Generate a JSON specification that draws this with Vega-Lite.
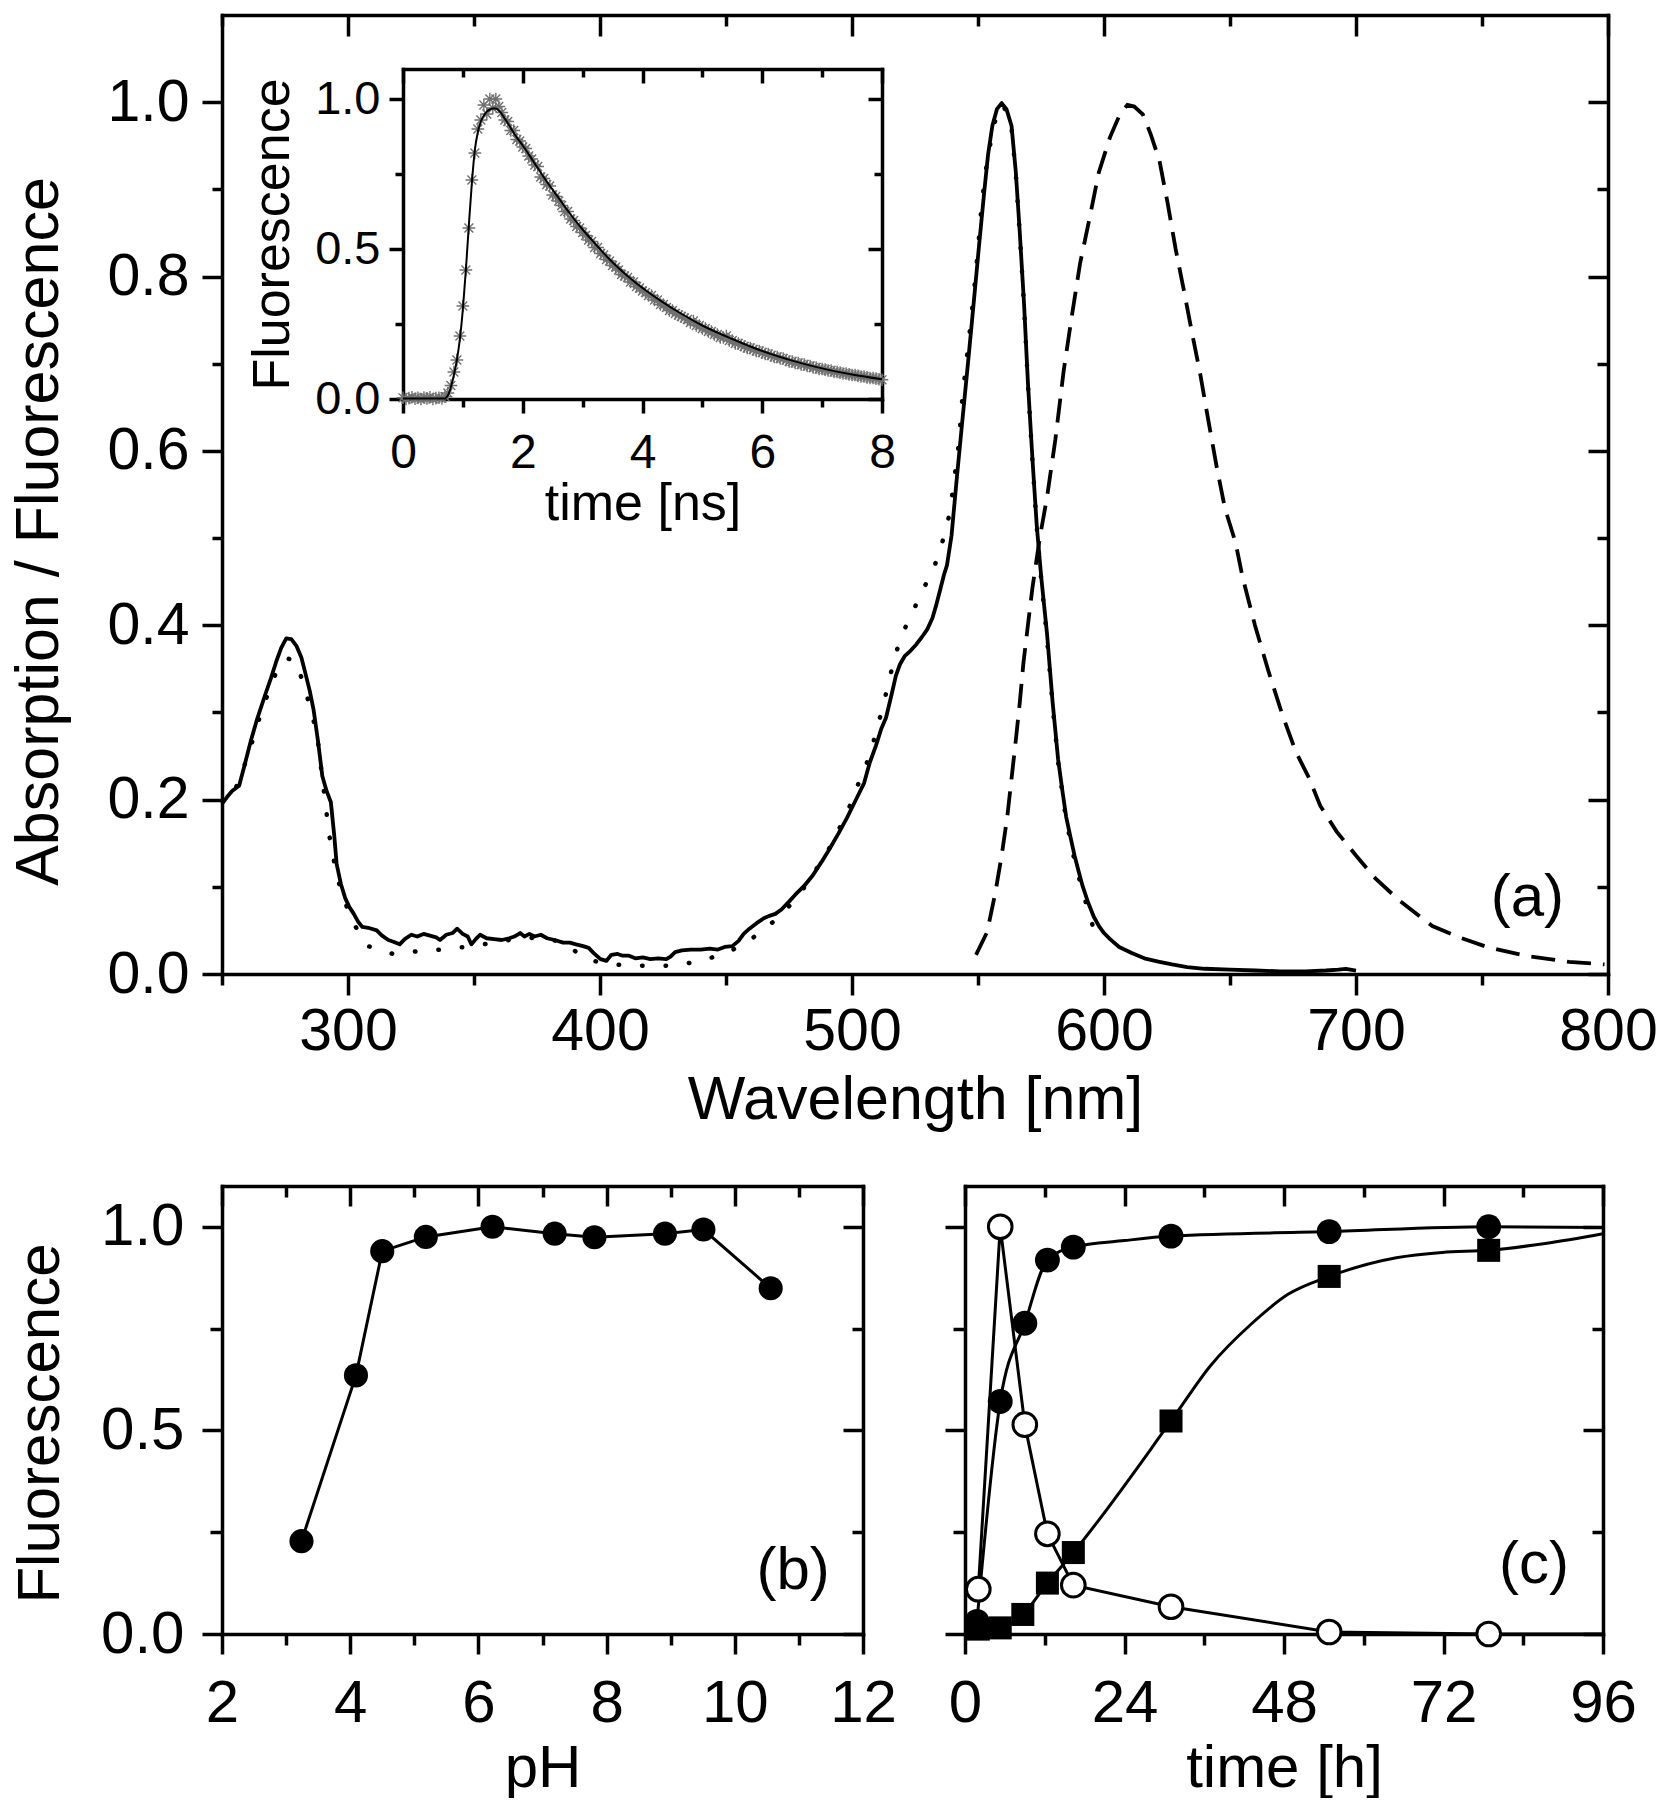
{
"$schema":"https://vega.github.io/schema/vega-lite/v6.json",
"background":"white",
"padding":{"left":8,"top":13,"right":0,"bottom":0},
"datasets":{
"absA":[{"nm":250,"a":0.195},{"nm":252,"a":0.203},{"nm":254,"a":0.21},{"nm":256.8,"a":0.216},{"nm":259,"a":0.24},{"nm":261.4,"a":0.267},{"nm":264,"a":0.293},{"nm":267.1,"a":0.32},{"nm":269.5,"a":0.34},{"nm":271.6,"a":0.359},{"nm":273.5,"a":0.374},{"nm":275.5,"a":0.385},{"nm":277.5,"a":0.384},{"nm":279.6,"a":0.376},{"nm":281.5,"a":0.363},{"nm":283,"a":0.346},{"nm":284.8,"a":0.325},{"nm":286.4,"a":0.302},{"nm":288.2,"a":0.265},{"nm":289.8,"a":0.227},{"nm":291.5,"a":0.21},{"nm":293.2,"a":0.197},{"nm":294.5,"a":0.16},{"nm":295.5,"a":0.126},{"nm":297.2,"a":0.103},{"nm":298.9,"a":0.087},{"nm":300.5,"a":0.077},{"nm":302.3,"a":0.069},{"nm":304,"a":0.06},{"nm":305.7,"a":0.054},{"nm":308,"a":0.053},{"nm":311.4,"a":0.05},{"nm":313.5,"a":0.044},{"nm":316,"a":0.039},{"nm":318,"a":0.037},{"nm":320.5,"a":0.034},{"nm":322.5,"a":0.04},{"nm":325.1,"a":0.045},{"nm":327.5,"a":0.043},{"nm":330,"a":0.046},{"nm":332.5,"a":0.044},{"nm":335,"a":0.042},{"nm":336.5,"a":0.039},{"nm":339,"a":0.045},{"nm":341.5,"a":0.047},{"nm":343.3,"a":0.052},{"nm":345.5,"a":0.046},{"nm":347.5,"a":0.043},{"nm":349,"a":0.034},{"nm":350.7,"a":0.04},{"nm":352.4,"a":0.045},{"nm":355,"a":0.041},{"nm":358,"a":0.04},{"nm":361,"a":0.039},{"nm":364,"a":0.041},{"nm":366,"a":0.043},{"nm":368.3,"a":0.047},{"nm":370,"a":0.043},{"nm":372,"a":0.046},{"nm":374,"a":0.043},{"nm":376.5,"a":0.045},{"nm":379,"a":0.041},{"nm":382,"a":0.039},{"nm":385.4,"a":0.036},{"nm":388,"a":0.036},{"nm":390.5,"a":0.034},{"nm":393.3,"a":0.032},{"nm":395.5,"a":0.03},{"nm":397.5,"a":0.024},{"nm":400.2,"a":0.017},{"nm":402.5,"a":0.015},{"nm":404.5,"a":0.022},{"nm":407,"a":0.023},{"nm":409,"a":0.021},{"nm":411.5,"a":0.021},{"nm":414,"a":0.018},{"nm":417,"a":0.019},{"nm":420,"a":0.017},{"nm":423,"a":0.018},{"nm":426.3,"a":0.017},{"nm":428,"a":0.02},{"nm":429.8,"a":0.025},{"nm":432.5,"a":0.027},{"nm":436,"a":0.028},{"nm":440,"a":0.028},{"nm":443.5,"a":0.029},{"nm":446.8,"a":0.028},{"nm":449.5,"a":0.031},{"nm":452.5,"a":0.032},{"nm":455,"a":0.038},{"nm":457,"a":0.046},{"nm":459.3,"a":0.052},{"nm":462,"a":0.058},{"nm":465,"a":0.064},{"nm":467.5,"a":0.067},{"nm":469.6,"a":0.069},{"nm":472,"a":0.074},{"nm":475,"a":0.083},{"nm":477.5,"a":0.091},{"nm":481,"a":0.101},{"nm":484.4,"a":0.113},{"nm":487.8,"a":0.128},{"nm":491.2,"a":0.144},{"nm":494.6,"a":0.161},{"nm":498,"a":0.179},{"nm":501.4,"a":0.199},{"nm":504.8,"a":0.219},{"nm":507,"a":0.242},{"nm":509.5,"a":0.262},{"nm":511.7,"a":0.282},{"nm":513.5,"a":0.294},{"nm":515.5,"a":0.318},{"nm":517.4,"a":0.342},{"nm":519,"a":0.355},{"nm":521,"a":0.365},{"nm":523.3,"a":0.371},{"nm":525.5,"a":0.378},{"nm":527.6,"a":0.386},{"nm":529.8,"a":0.395},{"nm":531.9,"a":0.408},{"nm":533.5,"a":0.424},{"nm":535.2,"a":0.443},{"nm":536.5,"a":0.458},{"nm":537.7,"a":0.469},{"nm":539.5,"a":0.503},{"nm":541.6,"a":0.569},{"nm":543.8,"a":0.635},{"nm":546,"a":0.7},{"nm":548.2,"a":0.767},{"nm":550.3,"a":0.832},{"nm":552.5,"a":0.898},{"nm":554,"a":0.94},{"nm":555.7,"a":0.973},{"nm":557.5,"a":0.992},{"nm":559.4,"a":0.999},{"nm":561.3,"a":0.992},{"nm":563.3,"a":0.973},{"nm":565,"a":0.92},{"nm":566.5,"a":0.854},{"nm":568.3,"a":0.767},{"nm":569.8,"a":0.679},{"nm":571.6,"a":0.591},{"nm":573.3,"a":0.515},{"nm":575.1,"a":0.455},{"nm":577.4,"a":0.39},{"nm":579.6,"a":0.312},{"nm":581.8,"a":0.246},{"nm":583.5,"a":0.21},{"nm":585,"a":0.18},{"nm":586.7,"a":0.157},{"nm":588.3,"a":0.136},{"nm":590,"a":0.117},{"nm":591.5,"a":0.101},{"nm":593.7,"a":0.082},{"nm":595.9,"a":0.066},{"nm":598,"a":0.055},{"nm":600,"a":0.047},{"nm":602.4,"a":0.04},{"nm":606,"a":0.031},{"nm":611,"a":0.024},{"nm":616,"a":0.018},{"nm":622,"a":0.014},{"nm":627,"a":0.011},{"nm":633,"a":0.008},{"nm":640,"a":0.006},{"nm":650,"a":0.005},{"nm":660,"a":0.004},{"nm":670,"a":0.003},{"nm":680,"a":0.003},{"nm":688,"a":0.004},{"nm":693,"a":0.005},{"nm":696,"a":0.006},{"nm":700,"a":0.004}],
"absB":[{"nm":255.7,"a":0.215},{"nm":259,"a":0.24},{"nm":262.6,"a":0.272},{"nm":265.5,"a":0.3},{"nm":268.7,"a":0.325},{"nm":272.1,"a":0.351},{"nm":275.5,"a":0.362},{"nm":279,"a":0.36},{"nm":282.4,"a":0.333},{"nm":285,"a":0.305},{"nm":287.6,"a":0.277},{"nm":290,"a":0.22},{"nm":292.5,"a":0.16},{"nm":295.5,"a":0.113},{"nm":298.5,"a":0.085},{"nm":301.7,"a":0.06},{"nm":308,"a":0.032},{"nm":317.9,"a":0.023},{"nm":327.5,"a":0.026},{"nm":337,"a":0.028},{"nm":346.4,"a":0.031},{"nm":356,"a":0.035},{"nm":366,"a":0.04},{"nm":376,"a":0.042},{"nm":386,"a":0.036},{"nm":393.6,"a":0.018},{"nm":403,"a":0.011},{"nm":412,"a":0.01},{"nm":422,"a":0.009},{"nm":431,"a":0.01},{"nm":440.9,"a":0.016},{"nm":450.4,"a":0.024},{"nm":459.6,"a":0.039},{"nm":468.8,"a":0.06},{"nm":477.9,"a":0.086},{"nm":484,"a":0.112},{"nm":490.4,"a":0.141},{"nm":495,"a":0.167},{"nm":499.5,"a":0.195},{"nm":503,"a":0.222},{"nm":507,"a":0.25},{"nm":509.5,"a":0.277},{"nm":512,"a":0.304},{"nm":514.2,"a":0.33},{"nm":516.6,"a":0.36},{"nm":519.5,"a":0.387},{"nm":524,"a":0.415},{"nm":528.6,"a":0.443},{"nm":533,"a":0.47},{"nm":536,"a":0.497},{"nm":538.5,"a":0.525},{"nm":539.9,"a":0.552},{"nm":542.3,"a":0.606},{"nm":543.8,"a":0.661},{"nm":546,"a":0.718},{"nm":548,"a":0.771},{"nm":549.9,"a":0.828},{"nm":551.4,"a":0.881},{"nm":553.6,"a":0.933},{"nm":555.7,"a":0.964},{"nm":557.7,"a":0.99},{"nm":559.4,"a":0.997},{"nm":561.3,"a":0.99},{"nm":563.3,"a":0.97},{"nm":565,"a":0.918},{"nm":566.5,"a":0.852},{"nm":568.3,"a":0.765},{"nm":569.8,"a":0.677},{"nm":571.6,"a":0.589},{"nm":573.3,"a":0.513},{"nm":575.1,"a":0.452},{"nm":577.4,"a":0.385},{"nm":579.6,"a":0.308},{"nm":581.8,"a":0.243},{"nm":585,"a":0.176},{"nm":588.3,"a":0.13},{"nm":591.5,"a":0.095},{"nm":594,"a":0.07},{"nm":596.3,"a":0.048}],
"emis":[{"nm":549.2,"e":0.022},{"nm":553.6,"e":0.048},{"nm":556.8,"e":0.092},{"nm":559.4,"e":0.136},{"nm":561.6,"e":0.18},{"nm":563.3,"e":0.224},{"nm":565,"e":0.268},{"nm":566.6,"e":0.312},{"nm":568,"e":0.356},{"nm":569.8,"e":0.4},{"nm":571.6,"e":0.443},{"nm":574.5,"e":0.5},{"nm":577.4,"e":0.547},{"nm":580.7,"e":0.613},{"nm":584,"e":0.692},{"nm":587.2,"e":0.754},{"nm":590.5,"e":0.815},{"nm":593.7,"e":0.859},{"nm":598,"e":0.92},{"nm":602.4,"e":0.96},{"nm":606.3,"e":0.986},{"nm":609.3,"e":0.997},{"nm":612,"e":0.995},{"nm":615.4,"e":0.986},{"nm":618.7,"e":0.962},{"nm":622,"e":0.933},{"nm":625.2,"e":0.885},{"nm":628.4,"e":0.832},{"nm":631.7,"e":0.784},{"nm":634.9,"e":0.736},{"nm":638.2,"e":0.688},{"nm":641.4,"e":0.635},{"nm":644.7,"e":0.582},{"nm":648,"e":0.534},{"nm":652.2,"e":0.495},{"nm":655,"e":0.455},{"nm":659.9,"e":0.4},{"nm":665.3,"e":0.347},{"nm":670.7,"e":0.298},{"nm":676.1,"e":0.255},{"nm":681.5,"e":0.224},{"nm":685.8,"e":0.193},{"nm":692.4,"e":0.163},{"nm":700,"e":0.136},{"nm":707.6,"e":0.11},{"nm":717.3,"e":0.084},{"nm":730.3,"e":0.055},{"nm":741.1,"e":0.042},{"nm":752,"e":0.031},{"nm":767,"e":0.021},{"nm":784.5,"e":0.014},{"nm":798.6,"e":0.011}],
"decayPts":[{"t":0,"f":0.004},{"t":0.05,"f":0},{"t":0.1,"f":0.003},{"t":0.15,"f":0.006},{"t":0.2,"f":0.001},{"t":0.25,"f":0.004},{"t":0.3,"f":0},{"t":0.35,"f":0.005},{"t":0.4,"f":0.002},{"t":0.45,"f":0.006},{"t":0.5,"f":0},{"t":0.55,"f":0.003},{"t":0.6,"f":0.004},{"t":0.65,"f":0.002},{"t":0.7,"f":0.008},{"t":0.75,"f":0.02},{"t":0.8,"f":0.045},{"t":0.85,"f":0.09},{"t":0.9,"f":0.13},{"t":0.95,"f":0.21},{"t":1,"f":0.31},{"t":1.05,"f":0.43},{"t":1.1,"f":0.57},{"t":1.15,"f":0.73},{"t":1.2,"f":0.82},{"t":1.25,"f":0.9},{"t":1.3,"f":0.93},{"t":1.35,"f":0.98},{"t":1.4,"f":0.95},{"t":1.45,"f":1.0},{"t":1.5,"f":0.97},{"t":1.55,"f":1.0},{"t":1.6,"f":0.975},{"t":1.65,"f":0.955},{"t":1.7,"f":0.93},{"t":1.75,"f":0.925},{"t":1.8,"f":0.895},{"t":1.85,"f":0.895},{"t":1.9,"f":0.865},{"t":1.95,"f":0.86},{"t":2,"f":0.84},{"t":2.05,"f":0.835},{"t":2.1,"f":0.81},{"t":2.15,"f":0.8},{"t":2.2,"f":0.78},{"t":2.25,"f":0.775},{"t":2.3,"f":0.74},{"t":2.35,"f":0.735},{"t":2.4,"f":0.715},{"t":2.45,"f":0.71},{"t":2.5,"f":0.68},{"t":2.55,"f":0.675},{"t":2.6,"f":0.66},{"t":2.65,"f":0.645},{"t":2.7,"f":0.625},{"t":2.75,"f":0.625},{"t":2.8,"f":0.6},{"t":2.85,"f":0.595},{"t":2.9,"f":0.575},{"t":2.95,"f":0.57},{"t":3,"f":0.555},{"t":3.05,"f":0.545},{"t":3.1,"f":0.53},{"t":3.15,"f":0.525},{"t":3.2,"f":0.505},{"t":3.25,"f":0.505},{"t":3.3,"f":0.485},{"t":3.35,"f":0.48},{"t":3.4,"f":0.465},{"t":3.45,"f":0.46},{"t":3.5,"f":0.445},{"t":3.55,"f":0.44},{"t":3.6,"f":0.43},{"t":3.65,"f":0.415},{"t":3.7,"f":0.41},{"t":3.75,"f":0.405},{"t":3.8,"f":0.39},{"t":3.85,"f":0.39},{"t":3.9,"f":0.375},{"t":3.95,"f":0.37},{"t":4,"f":0.36},{"t":4.05,"f":0.355},{"t":4.1,"f":0.345},{"t":4.15,"f":0.345},{"t":4.2,"f":0.33},{"t":4.25,"f":0.33},{"t":4.3,"f":0.315},{"t":4.35,"f":0.315},{"t":4.4,"f":0.305},{"t":4.45,"f":0.295},{"t":4.5,"f":0.295},{"t":4.55,"f":0.285},{"t":4.6,"f":0.28},{"t":4.65,"f":0.275},{"t":4.7,"f":0.27},{"t":4.75,"f":0.265},{"t":4.8,"f":0.255},{"t":4.85,"f":0.26},{"t":4.9,"f":0.245},{"t":4.95,"f":0.245},{"t":5,"f":0.235},{"t":5.05,"f":0.235},{"t":5.1,"f":0.225},{"t":5.15,"f":0.225},{"t":5.2,"f":0.215},{"t":5.25,"f":0.215},{"t":5.3,"f":0.205},{"t":5.35,"f":0.205},{"t":5.4,"f":0.21},{"t":5.45,"f":0.195},{"t":5.5,"f":0.195},{"t":5.55,"f":0.185},{"t":5.6,"f":0.185},{"t":5.65,"f":0.18},{"t":5.7,"f":0.175},{"t":5.75,"f":0.17},{"t":5.8,"f":0.17},{"t":5.85,"f":0.165},{"t":5.9,"f":0.16},{"t":5.95,"f":0.16},{"t":6,"f":0.155},{"t":6.05,"f":0.15},{"t":6.1,"f":0.15},{"t":6.15,"f":0.145},{"t":6.2,"f":0.14},{"t":6.25,"f":0.14},{"t":6.3,"f":0.135},{"t":6.35,"f":0.135},{"t":6.4,"f":0.13},{"t":6.45,"f":0.125},{"t":6.5,"f":0.125},{"t":6.55,"f":0.12},{"t":6.6,"f":0.12},{"t":6.65,"f":0.115},{"t":6.7,"f":0.115},{"t":6.75,"f":0.11},{"t":6.8,"f":0.11},{"t":6.85,"f":0.105},{"t":6.9,"f":0.105},{"t":6.95,"f":0.1},{"t":7,"f":0.1},{"t":7.05,"f":0.098},{"t":7.1,"f":0.095},{"t":7.15,"f":0.095},{"t":7.2,"f":0.09},{"t":7.25,"f":0.09},{"t":7.3,"f":0.088},{"t":7.35,"f":0.085},{"t":7.4,"f":0.085},{"t":7.45,"f":0.082},{"t":7.5,"f":0.08},{"t":7.55,"f":0.08},{"t":7.6,"f":0.077},{"t":7.65,"f":0.075},{"t":7.7,"f":0.075},{"t":7.75,"f":0.072},{"t":7.8,"f":0.07},{"t":7.85,"f":0.07},{"t":7.9,"f":0.068},{"t":7.95,"f":0.066},{"t":8,"f":0.064}],
"decayFit":[{"t":0,"f":0.002},{"t":0.7,"f":0.002},{"t":0.75,"f":0.012},{"t":0.8,"f":0.04},{"t":0.85,"f":0.08},{"t":0.9,"f":0.13},{"t":0.95,"f":0.2},{"t":1,"f":0.3},{"t":1.05,"f":0.43},{"t":1.1,"f":0.58},{"t":1.15,"f":0.72},{"t":1.2,"f":0.83},{"t":1.25,"f":0.89},{"t":1.3,"f":0.925},{"t":1.35,"f":0.945},{"t":1.4,"f":0.958},{"t":1.45,"f":0.965},{"t":1.5,"f":0.968},{"t":1.55,"f":0.968},{"t":1.6,"f":0.962},{"t":1.7,"f":0.935},{"t":1.8,"f":0.903},{"t":1.9,"f":0.872},{"t":2,"f":0.845},{"t":2.2,"f":0.785},{"t":2.4,"f":0.725},{"t":2.6,"f":0.67},{"t":2.8,"f":0.615},{"t":3,"f":0.565},{"t":3.2,"f":0.52},{"t":3.4,"f":0.476},{"t":3.6,"f":0.437},{"t":3.8,"f":0.402},{"t":4,"f":0.37},{"t":4.3,"f":0.328},{"t":4.6,"f":0.29},{"t":5,"f":0.245},{"t":5.5,"f":0.2},{"t":6,"f":0.16},{"t":6.5,"f":0.128},{"t":7,"f":0.102},{"t":7.5,"f":0.082},{"t":8,"f":0.066}],
"ph":[{"ph":3.24,"f":0.228},{"ph":4.09,"f":0.635},{"ph":4.5,"f":0.94},{"ph":5.18,"f":0.975},{"ph":6.22,"f":1.0},{"ph":7.19,"f":0.983},{"ph":7.81,"f":0.974},{"ph":8.91,"f":0.983},{"ph":9.51,"f":0.993},{"ph":10.56,"f":0.849}],
"kinPts":[{"h":1.8,"v":0.031,"s":"full"},{"h":5.3,"v":0.571,"s":"full"},{"h":9.0,"v":0.763,"s":"full"},{"h":12.4,"v":0.918,"s":"full"},{"h":16.3,"v":0.95,"s":"full"},{"h":31.0,"v":0.977,"s":"full"},{"h":54.8,"v":0.988,"s":"full"},{"h":78.8,"v":1.0,"s":"full"},
{"h":2.0,"v":0.11,"s":"open"},{"h":5.3,"v":1.0,"s":"open"},{"h":9.0,"v":0.514,"s":"open"},{"h":12.4,"v":0.246,"s":"open"},{"h":16.3,"v":0.12,"s":"open"},{"h":31.0,"v":0.067,"s":"open"},{"h":54.8,"v":0.005,"s":"open"},{"h":78.8,"v":0.0,"s":"open"},
{"h":2.0,"v":0.012,"s":"square"},{"h":5.3,"v":0.015,"s":"square"},{"h":8.7,"v":0.048,"s":"square"},{"h":12.4,"v":0.125,"s":"square"},{"h":16.3,"v":0.2,"s":"square"},{"h":31.0,"v":0.523,"s":"square"},{"h":54.8,"v":0.878,"s":"square"},{"h":78.8,"v":0.942,"s":"square"}],
"kinFit":[{"h":1.8,"v":0.031,"s":"full"},{"h":5.3,"v":0.571,"s":"full"},{"h":9.0,"v":0.763,"s":"full"},{"h":12.4,"v":0.918,"s":"full"},{"h":16.3,"v":0.95,"s":"full"},{"h":24,"v":0.966,"s":"full"},{"h":31.0,"v":0.977,"s":"full"},{"h":54.8,"v":0.988,"s":"full"},{"h":78.8,"v":1.0,"s":"full"},{"h":96,"v":0.998,"s":"full"},
{"h":2.0,"v":0.012,"s":"square"},{"h":5.3,"v":0.015,"s":"square"},{"h":8.7,"v":0.048,"s":"square"},{"h":12.4,"v":0.125,"s":"square"},{"h":16.3,"v":0.2,"s":"square"},{"h":31.0,"v":0.523,"s":"square"},{"h":37,"v":0.66,"s":"square"},{"h":43.2,"v":0.763,"s":"square"},{"h":48.6,"v":0.834,"s":"square"},{"h":54.8,"v":0.878,"s":"square"},{"h":64.9,"v":0.924,"s":"square"},{"h":71.8,"v":0.937,"s":"square"},{"h":78.8,"v":0.942,"s":"square"},{"h":87.3,"v":0.959,"s":"square"},{"h":96,"v":0.983,"s":"square"}],
"kinOpen":[{"h":2.0,"v":0.11},{"h":5.3,"v":1.0},{"h":9.0,"v":0.514},{"h":12.4,"v":0.246},{"h":16.3,"v":0.12},{"h":31.0,"v":0.067},{"h":54.8,"v":0.005},{"h":78.8,"v":0.0},{"h":96,"v":0.0}]
},
"spacing":54,
"vconcat":[
{
"width":1386,"height":959,
"resolve":{"scale":{"x":"independent","y":"independent"},"axis":{"x":"independent","y":"independent"}},
"layer":[
{"data":{"name":"absA"},"mark":{"type":"line","stroke":"black","strokeWidth":3.8,"strokeJoin":"round"},
"encoding":{
"x":{"field":"nm","type":"quantitative","scale":{"domain":[250,800],"nice":false,"zero":false},
"axis":{"orient":"bottom","values":[250,300,350,400,450,500,550,600,650,700,750,800],"labelExpr":"datum.value % 100 === 0 ? datum.label : ''","tickSize":{"condition":{"test":"datum.value % 100 === 0","value":21},"value":11},"labelPadding":7,"labelFontSize":59,"labelFlush":false,"labelOverlap":false,"title":"Wavelength [nm]","titleFontSize":61,"titlePadding":9}},
"y":{"field":"a","type":"quantitative","scale":{"domain":[0,1.1],"nice":false,"zero":false},
"axis":{"orient":"left","values":[0,0.1,0.2,0.3,0.4,0.5,0.6,0.7,0.8,0.9,1.0],"format":".1f","labelExpr":"round(datum.value*10) % 2 === 0 ? datum.label : ''","tickSize":{"condition":{"test":"round(datum.value*10) % 2 === 0","value":20},"value":10},"labelPadding":13,"labelFontSize":59,"labelFlush":false,"labelOverlap":false,"title":"Absorption / Fluorescence","titleFontSize":61,"titlePadding":36,"titleY":516}}
}},
{"data":{"name":"absB"},"mark":{"type":"line","stroke":"black","strokeWidth":4.5,"strokeCap":"round","strokeDash":[0.5,23]},
"encoding":{
"x":{"field":"nm","type":"quantitative","scale":{"domain":[250,800],"nice":false,"zero":false},
"axis":{"orient":"top","values":[250,300,350,400,450,500,550,600,650,700,750,800],"labels":false,"title":null,"tickSize":{"condition":{"test":"datum.value % 100 === 0","value":-21},"value":-11}}},
"y":{"field":"a","type":"quantitative","scale":{"domain":[0,1.1],"nice":false,"zero":false},
"axis":{"orient":"right","values":[0,0.1,0.2,0.3,0.4,0.5,0.6,0.7,0.8,0.9,1.0],"labels":false,"title":null,"tickSize":{"condition":{"test":"round(datum.value*10) % 2 === 0","value":-20},"value":-11}}}
}},
{"data":{"name":"emis"},"mark":{"type":"line","stroke":"black","strokeWidth":3.8,"strokeDash":[24,12]},
"encoding":{
"x":{"field":"nm","type":"quantitative","scale":{"domain":[250,800],"nice":false,"zero":false},"axis":null},
"y":{"field":"e","type":"quantitative","scale":{"domain":[0,1.1],"nice":false,"zero":false},"axis":null}
}},
{"data":{"values":[{"x":768,"y":0.087,"label":"(a)"}]},"mark":{"type":"text","fontSize":60,"font":"Liberation Sans","align":"center","baseline":"middle","color":"black"},
"encoding":{
"x":{"field":"x","type":"quantitative","scale":{"domain":[250,800],"nice":false,"zero":false},"axis":null},
"y":{"field":"y","type":"quantitative","scale":{"domain":[0,1.1],"nice":false,"zero":false},"axis":null},
"text":{"field":"label"}
}},
{"data":{"name":"decayPts"},"mark":{"type":"point","shape":"M-1,0H1M0,-1V1M-0.7,-0.7L0.7,0.7M-0.7,0.7L0.7,-0.7","filled":false,"stroke":"#707070","strokeWidth":1.4,"size":160,"opacity":1},
"encoding":{
"x":{"field":"t","type":"quantitative","scale":{"domain":[0,8],"nice":false,"zero":false,"range":[181,660]},
"axis":{"orient":"bottom","offset":-575,"values":[0,1,2,3,4,5,6,7,8],"labelExpr":"datum.value % 2 === 0 ? datum.label : ''","tickSize":{"condition":{"test":"datum.value % 2 === 0","value":14},"value":8},"labelPadding":16,"labelFontSize":48,"labelFlush":false,"labelOverlap":false,"title":"time [ns]","titleFontSize":52,"titlePadding":1}},
"y":{"field":"f","type":"quantitative","scale":{"domain":[0,1.1],"nice":false,"zero":false,"range":[384,54]},
"axis":{"orient":"left","offset":-181,"values":[0,0.25,0.5,0.75,1.0],"format":".1f","labelExpr":"round(datum.value*4) % 2 === 0 ? datum.label : ''","tickSize":{"condition":{"test":"round(datum.value*4) % 2 === 0","value":14},"value":8},"labelPadding":9,"labelFontSize":47,"labelFlush":false,"labelOverlap":false,"title":"Fluorescence","titleFontSize":52,"titlePadding":15}}
}},
{"data":{"name":"decayFit"},"mark":{"type":"line","stroke":"black","strokeWidth":2,"interpolate":"monotone"},
"encoding":{
"x":{"field":"t","type":"quantitative","scale":{"domain":[0,8],"nice":false,"zero":false,"range":[181,660]},
"axis":{"orient":"top","offset":-54,"values":[0,1,2,3,4,5,6,7,8],"labels":false,"title":null,"tickSize":{"condition":{"test":"datum.value % 2 === 0","value":-14},"value":-8}}},
"y":{"field":"f","type":"quantitative","scale":{"domain":[0,1.1],"nice":false,"zero":false,"range":[384,54]},
"axis":{"orient":"right","offset":-726,"values":[0,0.25,0.5,0.75,1.0],"labels":false,"title":null,"tickSize":{"condition":{"test":"round(datum.value*4) % 2 === 0","value":-14},"value":-8}}}
}}
]
},
{
"spacing":46,
"hconcat":[
{
"width":641,"height":448,
"resolve":{"scale":{"x":"independent","y":"independent"},"axis":{"x":"independent","y":"independent"}},
"layer":[
{"data":{"name":"ph"},"mark":{"type":"line","stroke":"black","strokeWidth":3},
"encoding":{
"x":{"field":"ph","type":"quantitative","scale":{"domain":[2,12],"nice":false,"zero":false},
"axis":{"orient":"bottom","values":[2,3,4,5,6,7,8,9,10,11,12],"labelExpr":"datum.value % 2 === 0 ? datum.label : ''","tickSize":{"condition":{"test":"datum.value % 2 === 0","value":20},"value":11},"labelPadding":20,"labelFontSize":60,"labelFlush":false,"labelOverlap":false,"title":"pH","titleFontSize":60,"titlePadding":6}},
"y":{"field":"f","type":"quantitative","scale":{"domain":[0,1.1],"nice":false,"zero":false},
"axis":{"orient":"left","values":[0,0.25,0.5,0.75,1.0],"format":".1f","labelExpr":"round(datum.value*4) % 2 === 0 ? datum.label : ''","tickSize":{"condition":{"test":"round(datum.value*4) % 2 === 0","value":20},"value":12},"labelPadding":18,"labelFontSize":60,"labelFlush":false,"labelOverlap":false,"title":"Fluorescence","titleFontSize":60,"titlePadding":29,"titleY":237}}
}},
{"data":{"name":"ph"},"mark":{"type":"point","shape":"circle","filled":true,"color":"black","size":580,"opacity":1},
"encoding":{
"x":{"field":"ph","type":"quantitative","scale":{"domain":[2,12],"nice":false,"zero":false},
"axis":{"orient":"top","values":[2,3,4,5,6,7,8,9,10,11,12],"labels":false,"title":null,"tickSize":{"condition":{"test":"datum.value % 2 === 0","value":-20},"value":-11}}},
"y":{"field":"f","type":"quantitative","scale":{"domain":[0,1.1],"nice":false,"zero":false},
"axis":{"orient":"right","values":[0,0.25,0.5,0.75,1.0],"labels":false,"title":null,"tickSize":{"condition":{"test":"round(datum.value*4) % 2 === 0","value":-20},"value":-11}}}
}},
{"data":{"values":[{"x":10.91,"y":0.155,"label":"(b)"}]},"mark":{"type":"text","fontSize":60,"font":"Liberation Sans","align":"center","baseline":"middle","color":"black"},
"encoding":{
"x":{"field":"x","type":"quantitative","scale":{"domain":[2,12],"nice":false,"zero":false},"axis":null},
"y":{"field":"y","type":"quantitative","scale":{"domain":[0,1.1],"nice":false,"zero":false},"axis":null},
"text":{"field":"label"}
}}
]
},
{
"width":638,"height":448,
"resolve":{"scale":{"x":"independent","y":"independent"},"axis":{"x":"independent","y":"independent"}},
"layer":[
{"data":{"name":"kinFit"},"mark":{"type":"line","stroke":"black","strokeWidth":3,"interpolate":"monotone"},
"encoding":{
"x":{"field":"h","type":"quantitative","scale":{"domain":[0,96],"nice":false,"zero":false},
"axis":{"orient":"bottom","values":[0,12,24,36,48,60,72,84,96],"labelExpr":"datum.value % 24 === 0 ? datum.label : ''","tickSize":{"condition":{"test":"datum.value % 24 === 0","value":20},"value":11},"labelPadding":20,"labelFontSize":60,"labelFlush":false,"labelOverlap":false,"title":"time [h]","titleFontSize":60,"titlePadding":6}},
"y":{"field":"v","type":"quantitative","scale":{"domain":[0,1.1],"nice":false,"zero":false},
"axis":{"orient":"left","values":[0,0.25,0.5,0.75,1.0],"labels":false,"title":null,"tickSize":{"condition":{"test":"round(datum.value*4) % 2 === 0","value":20},"value":12}}},
"detail":{"field":"s"}
}},
{"data":{"name":"kinOpen"},"mark":{"type":"line","stroke":"black","strokeWidth":3},
"encoding":{
"x":{"field":"h","type":"quantitative","scale":{"domain":[0,96],"nice":false,"zero":false},
"axis":{"orient":"top","values":[0,12,24,36,48,60,72,84,96],"labels":false,"title":null,"tickSize":{"condition":{"test":"datum.value % 24 === 0","value":-20},"value":-11}}},
"y":{"field":"v","type":"quantitative","scale":{"domain":[0,1.1],"nice":false,"zero":false},
"axis":{"orient":"right","values":[0,0.25,0.5,0.75,1.0],"labels":false,"title":null,"tickSize":{"condition":{"test":"round(datum.value*4) % 2 === 0","value":-20},"value":-11}}}
}},
{"data":{"name":"kinPts"},"transform":[{"filter":"datum.s === 'square'"}],"mark":{"type":"point","shape":"square","filled":true,"color":"black","size":530,"opacity":1},
"encoding":{
"x":{"field":"h","type":"quantitative","scale":{"domain":[0,96],"nice":false,"zero":false},"axis":null},
"y":{"field":"v","type":"quantitative","scale":{"domain":[0,1.1],"nice":false,"zero":false},"axis":null}
}},
{"data":{"name":"kinPts"},"transform":[{"filter":"datum.s === 'open'"}],"mark":{"type":"point","shape":"circle","filled":true,"fill":"white","stroke":"black","strokeWidth":3,"size":560,"opacity":1},
"encoding":{
"x":{"field":"h","type":"quantitative","scale":{"domain":[0,96],"nice":false,"zero":false},"axis":null},
"y":{"field":"v","type":"quantitative","scale":{"domain":[0,1.1],"nice":false,"zero":false},"axis":null}
}},
{"data":{"name":"kinPts"},"transform":[{"filter":"datum.s === 'full'"}],"mark":{"type":"point","shape":"circle","filled":true,"color":"black","size":620,"opacity":1},
"encoding":{
"x":{"field":"h","type":"quantitative","scale":{"domain":[0,96],"nice":false,"zero":false},"axis":null},
"y":{"field":"v","type":"quantitative","scale":{"domain":[0,1.1],"nice":false,"zero":false},"axis":null}
}},
{"data":{"values":[{"x":85.6,"y":0.17,"label":"(c)"}]},"mark":{"type":"text","fontSize":60,"font":"Liberation Sans","align":"center","baseline":"middle","color":"black"},
"encoding":{
"x":{"field":"x","type":"quantitative","scale":{"domain":[0,96],"nice":false,"zero":false},"axis":null},
"y":{"field":"y","type":"quantitative","scale":{"domain":[0,1.1],"nice":false,"zero":false},"axis":null},
"text":{"field":"label"}
}}
]
}
]
}
],
"config":{
"view":{"stroke":null},
"axis":{"domainColor":"black","domainWidth":3.5,"domainCap":"square","tickColor":"black","tickWidth":3.5,"labelColor":"black","titleColor":"black","labelFont":"Liberation Sans","titleFont":"Liberation Sans","titleFontWeight":"normal","grid":false}
}
}
